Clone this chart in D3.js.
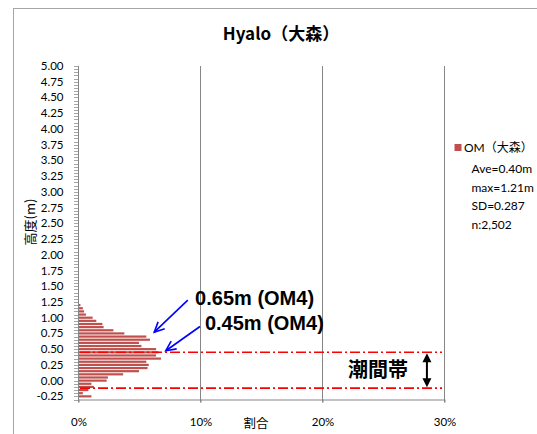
<!DOCTYPE html>
<html><head><meta charset="utf-8">
<script src="https://cdn.jsdelivr.net/npm/d3@7"></script>
<style>
body{margin:0;background:#fff}
svg{display:block}
text{font-family:"Lato","Liberation Sans","Noto Sans CJK JP",sans-serif;fill:#000}
</style>
</head><body>
<svg id="c" width="537" height="434"></svg>
<script>
// ---- data ----
const heights = [1.20,1.15,1.10,1.05,1.00,0.95,0.90,0.85,0.80,0.75,0.70,0.65,0.60,0.55,0.50,0.45,0.40,0.35,0.30,0.25,0.20,0.15,0.10,0.05,0.00,-0.05,-0.10,-0.15,-0.20,-0.25];
const shares  = [0.2,0.4,0.5,0.65,1.2,1.5,2.0,2.1,2.9,3.8,5.6,5.9,5.0,5.2,6.4,6.6,6.4,6.8,5.6,5.8,5.7,5.0,3.7,2.45,2.35,1.1,1.3,0.85,0.4,1.1];
const yTicks = [-0.25,0.00,0.25,0.50,0.75,1.00,1.25,1.50,1.75,2.00,2.25,2.50,2.75,3.00,3.25,3.50,3.75,4.00,4.25,4.50,4.75,5.00];
const xTicks = [0,10,20,30];
const yDomain = [-0.30,5.00];
const xDomain = [0,30];
const tideLevels = [0.45,-0.12];
const title = "Hyalo（大森）";
const yTitle = "高度(m)";
const xTitle = "割合";
const seriesName = "OM（大森）";
const legendNotes = ["Ave=0.40m","max=1.21m","SD=0.287","n:2,502"];
const zoneLabel = "潮間帯";
const callouts = [
  {text:"0.65m (OM4)", tx:9.6, th:1.205, from:[9.0,1.28], to:[6.25,0.77]},
  {text:"0.45m (OM4)", tx:10.4, th:0.805, from:[10.0,0.86], to:[7.2,0.475]}
];

// ---- chart ----
const svg = d3.select("#c");
const x = d3.scaleLinear(xDomain,[78,444]);
const y = d3.scaleLinear(yDomain,[399.5,66]);
const grid = "#868686";

// outer frame
svg.append("rect").attr("x",13.5).attr("y",8.5).attr("width",600).attr("height",500)
  .attr("fill","none").attr("stroke","#a6a6a6");

// title
svg.append("text").attr("x",281).attr("y",40).attr("text-anchor","middle")
  .style("font-size","17px").style("font-weight","700")
  .style("font-family","'Noto Sans CJK JP','Lato',sans-serif").text(title);

// vertical gridlines
svg.append("g").selectAll("line").data(xTicks.slice(1)).join("line")
  .attr("x1",d=>x(d)+0.5).attr("x2",d=>x(d)+0.5)
  .attr("y1",y(yDomain[1])).attr("y2",y(yDomain[0])+3)
  .attr("stroke",grid).attr("stroke-width",1);

// bars
svg.append("g").selectAll("rect").data(heights).join("rect")
  .attr("x",x(0)).attr("y",d=>y(d)-1.1)
  .attr("width",(d,i)=>x(shares[i])-x(0)).attr("height",2.2)
  .attr("fill","#C0504D");

// x axis
const xa = svg.append("g").attr("transform",`translate(0.5,${y(yDomain[0])})`)
  .call(d3.axisBottom(x).tickValues(xTicks).tickFormat(d=>d+"%").tickSize(3).tickPadding(15).tickSizeOuter(0));
xa.select(".domain").attr("stroke",grid);
xa.selectAll(".tick line").attr("stroke",grid);
xa.selectAll("text").style("font-size","11.5px").style("font-family","Lato,'Liberation Sans',sans-serif").attr("fill","#000");

// y axis: minor ticks per category
const minor = d3.range(Math.round(yDomain[0]*20), Math.round(yDomain[1]*20)+1).map(k=>k/20);
svg.append("g").selectAll("line").data(minor).join("line")
  .attr("x1",x(0)-4).attr("x2",x(0)).attr("y1",d=>Math.round(y(d))+0.5).attr("y2",d=>Math.round(y(d))+0.5)
  .attr("stroke","#a6a6a6").attr("stroke-width",1);
svg.append("line").attr("x1",x(0)+0.5).attr("x2",x(0)+0.5).attr("y1",y(yDomain[1])).attr("y2",y(yDomain[0])+3)
  .attr("stroke",grid);
svg.append("g").selectAll("text").data(yTicks).join("text")
  .attr("x",63.5).attr("y",d=>y(d)).attr("dy","0.35em").attr("text-anchor","end")
  .style("font-size","11.5px").text(d=>d.toFixed(2));

// axis titles
svg.append("text").attr("transform",`translate(30,222) rotate(-90)`).attr("text-anchor","middle")
  .style("font-size","13px").style("font-family","'Noto Sans CJK JP',sans-serif").style("fill","#000").attr("dy","0.35em").text(yTitle);
svg.append("text").attr("x",256).attr("y",428).attr("text-anchor","middle")
  .style("font-size","12.5px").style("font-family","'Noto Sans CJK JP',sans-serif").text(xTitle);

// tidal zone lines
svg.append("g").selectAll("line").data(tideLevels).join("line")
  .attr("x1",80).attr("x2",442).attr("y1",d=>y(d)).attr("y2",d=>y(d))
  .attr("stroke","#FF0000").attr("stroke-width",1.6).attr("stroke-dasharray","10,3,2,3");

// double arrow
const ax = x(28.6);
const yTop = y(tideLevels[0]), yBot = y(tideLevels[1]);
svg.append("line").attr("x1",ax).attr("x2",ax).attr("y1",yTop+8).attr("y2",yBot-8).attr("stroke","#000").attr("stroke-width",2);
svg.append("path").attr("d",`M${ax},${yTop+1}L${ax-4.5},${yTop+10}L${ax+4.5},${yTop+10}Z`).attr("fill","#000");
svg.append("path").attr("d",`M${ax},${yBot-1}L${ax-4.5},${yBot-10}L${ax+4.5},${yBot-10}Z`).attr("fill","#000");
svg.append("text").attr("x",378).attr("y",(yTop+yBot)/2).attr("dy","0.36em").attr("text-anchor","middle")
  .style("font-size","20px").style("font-weight","700").style("font-family","'Noto Sans CJK JP',sans-serif").text(zoneLabel);

// callouts
callouts.forEach(c=>{
  const x1=x(c.from[0]), y1=y(c.from[1]), x2=x(c.to[0]), y2=y(c.to[1]);
  svg.append("line").attr("x1",x1).attr("y1",y1).attr("x2",x2).attr("y2",y2).attr("stroke","#0000FF").attr("stroke-width",1.6);
  const ang=Math.atan2(y2-y1,x2-x1), L=11, s=0.45;
  const p1=[x2-L*Math.cos(ang-s), y2-L*Math.sin(ang-s)], p2=[x2-L*Math.cos(ang+s), y2-L*Math.sin(ang+s)];
  svg.append("path").attr("d",`M${p1}L${x2},${y2}L${p2}`).attr("fill","none").attr("stroke","#0000FF").attr("stroke-width",1.6);
  svg.append("text").attr("x",x(c.tx)).attr("y",y(c.th)).style("font-size","20px").style("font-weight","700")
    .style("font-family","'Liberation Sans',Arial,sans-serif").text(c.text);
});

// legend
svg.append("rect").attr("x",454.5).attr("y",144).attr("width",7).attr("height",7).attr("fill","#C0504D");
svg.append("text").attr("x",464).attr("y",148).attr("dy","0.35em").style("font-size","12px")
  .style("font-family","Lato,'Noto Sans CJK JP',sans-serif").text(seriesName);
svg.append("g").selectAll("text").data(legendNotes).join("text")
  .attr("x",471.5).attr("y",(d,i)=>169+i*18.5).attr("dy","0.35em").style("font-size","12px").text(d=>d);
</script>
</body></html>
